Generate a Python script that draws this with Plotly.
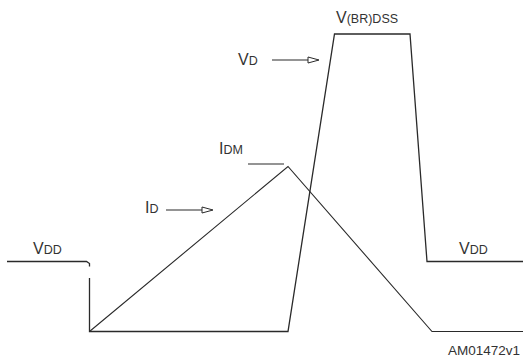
import plotly.graph_objects as go

# waveform corners (x = time in px units, y = level, 0 at top)
vd_x = [7, 86.5, 89.5, 89.5, None, 89.5, 89.5, 288, 334.5, 410, 427, 523]
vd_y = [261.5, 261.5, 263.5, 266.5, None, 278, 331.5, 331.5, 34, 34, 261.5, 261.5]

id_x = [89.5, 288, 432, 523]
id_y = [331.5, 166.5, 331.5, 331.5]

idm_x = [248, 284]
idm_y = [164, 164]

# arrows: tail x, tip x, y
arrow_tail = [272, 166]
arrow_tip = [319, 213]
arrow_y = [60, 210]

SUB = "<span style='font-size:12.5px'>%s</span>"
labels = ["V" + SUB % "DD", "V" + SUB % "DD", "V" + SUB % "(BR)DSS",
          "V" + SUB % "D", "I" + SUB % "DM", "I" + SUB % "D"]
label_x = [47, 473, 367, 248, 231, 151]
label_y = [248, 248, 17, 59, 148, 207]

line_col = "#2a2a2a"

fig = go.Figure()
fig.add_trace(go.Scatter(x=vd_x, y=vd_y, mode="lines",
                         line=dict(color=line_col, width=1.3)))
fig.add_trace(go.Scatter(x=id_x, y=id_y, mode="lines",
                         line=dict(color=line_col, width=1.1)))
fig.add_trace(go.Scatter(x=idm_x, y=idm_y, mode="lines",
                         line=dict(color=line_col, width=1.1)))

for t, tip, y in zip(arrow_tail, arrow_tip, arrow_y):
    head = tip - 11
    fig.add_trace(go.Scatter(x=[t, head], y=[y, y], mode="lines",
                             line=dict(color=line_col, width=1.1)))
    fig.add_trace(go.Scatter(x=[tip, head, head, tip], y=[y, y - 3, y + 3, y],
                             mode="lines", fill="toself", fillcolor="white",
                             line=dict(color=line_col, width=1)))

for txt, x, y in zip(labels, label_x, label_y):
    fig.add_annotation(x=x, y=y, text=txt, showarrow=False,
                       font=dict(family="Liberation Sans, Arial", size=16, color="#333"))

fig.add_annotation(x=522, y=350, text="AM01472v1", showarrow=False, xanchor="right",
                   font=dict(family="Liberation Sans, Arial", size=13.5, color="#333"))

fig.update_xaxes(range=[0, 523], visible=False)
fig.update_yaxes(range=[361, 0], visible=False)
fig.update_layout(width=523, height=361, margin=dict(l=0, r=0, t=0, b=0),
                  showlegend=False, hovermode=False,
                  plot_bgcolor="white", paper_bgcolor="white")

fig.write_html("out.html", config={"displayModeBar": False},
               post_script="document.body.style.margin='0';")
